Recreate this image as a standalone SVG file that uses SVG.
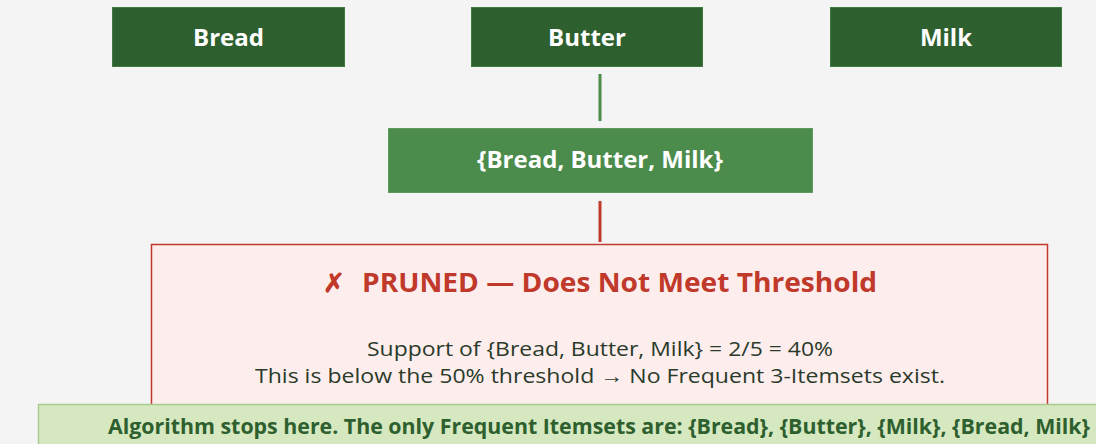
<svg xmlns="http://www.w3.org/2000/svg" width="1096" height="444" viewBox="0 0 1096 444">
<style>
.top{fill:#2e5f2e;stroke:#3f7a3f;stroke-width:1}
.lbl{font-family:"Open Sans","Liberation Sans",sans-serif;font-weight:bold;fill:#ffffff;text-anchor:middle}
.body{font-family:"Open Sans","Liberation Sans",sans-serif;fill:#2a3a2a;text-anchor:middle;font-size:20px}
</style>
<rect x="0" y="0" width="1096" height="444" fill="#f4f4f4"/>
<g id="connectors">
<line x1="600" y1="74" x2="600" y2="121" stroke="#4b8b4b" stroke-width="3"/>
<line x1="600" y1="201" x2="600" y2="242" stroke="#c0392b" stroke-width="3"/>
</g>
<g id="bread"><rect class="top" x="112.5" y="7.5" width="232" height="59"/><text class="lbl" x="228.5" y="46" font-size="24">Bread</text></g>
<g id="butter"><rect class="top" x="471.5" y="7.5" width="231" height="59"/><text class="lbl" x="587" y="46" font-size="24">Butter</text></g>
<g id="milk"><rect class="top" x="830.5" y="7.5" width="231" height="59"/><text class="lbl" x="946" y="46" font-size="24">Milk</text></g>
<g id="itemset"><rect x="388.5" y="128.5" width="424" height="64" fill="#4b8b4b" stroke="#5e9a5e" stroke-width="1"/><text class="lbl" x="600" y="168" font-size="24">{Bread, Butter, Milk}</text></g>
<g id="pruned">
<rect x="151.5" y="244.5" width="896" height="220" fill="#fdeeed" stroke="#c0392b" stroke-width="1.5"/>
<text y="292" font-family="'Open Sans','Liberation Sans',sans-serif" font-weight="bold" font-size="26" fill="#c0392b"><tspan x="323">✗</tspan><tspan x="362" textLength="515" lengthAdjust="spacingAndGlyphs">PRUNED — Does Not Meet Threshold</tspan></text>
<text class="body" x="600" y="356" textLength="466" lengthAdjust="spacingAndGlyphs">Support of {Bread, Butter, Milk} = 2/5 = 40%</text>
<text class="body" x="600" y="383" textLength="690" lengthAdjust="spacingAndGlyphs">This is below the 50% threshold → No Frequent 3-Itemsets exist.</text>
</g>
<g id="banner">
<rect x="38.5" y="404.5" width="1070" height="60" fill="#d5e8c0" stroke="#a9cc8e" stroke-width="1.5"/>
<text x="108" y="434" font-family="'Open Sans','Liberation Sans',sans-serif" font-weight="bold" font-size="21" fill="#2e5f2e" textLength="982" lengthAdjust="spacingAndGlyphs">Algorithm stops here. The only Frequent Itemsets are: {Bread}, {Butter}, {Milk}, {Bread, Milk}</text>
</g>
</svg>
